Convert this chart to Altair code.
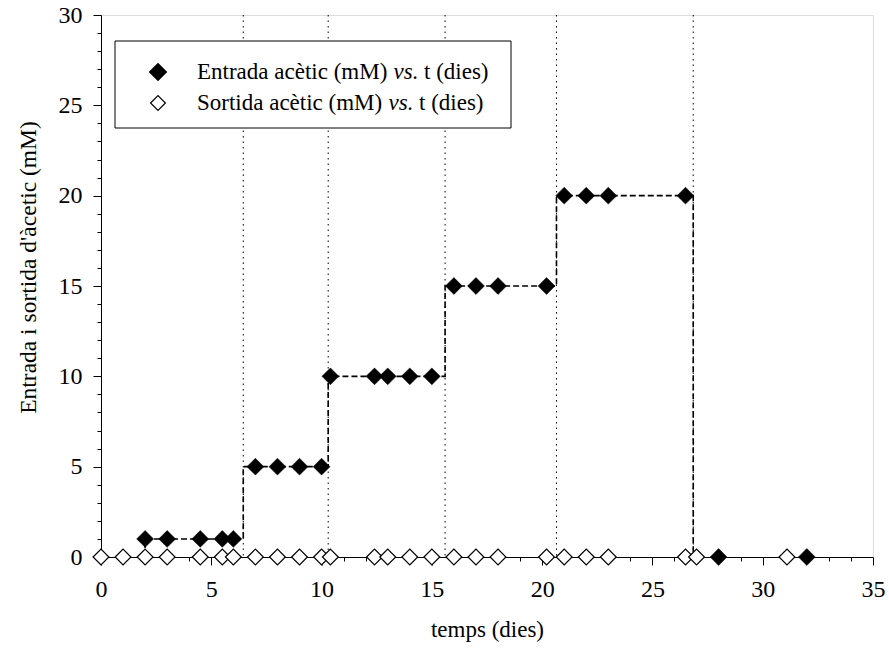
import altair as alt
import pandas as pd

# Acetic acid fed to the reactor (filled) and measured at the outlet (open), in mM, against time in days
entrada_t = [2, 3, 4.5, 5.5, 6, 7, 8, 9, 10, 10.4, 12.4, 13, 14, 15, 16, 17, 18, 20.2,
             21, 22, 23, 26.5, 28, 32]
entrada_c = [1, 1, 1, 1, 1, 5, 5, 5, 5, 10, 10, 10, 10, 10, 15, 15, 15, 15,
             20, 20, 20, 20, 0, 0]

sortida_t = [0, 1, 2, 3, 4.5, 5.5, 6, 7, 8, 9, 10, 10.4, 12.4, 13, 14, 15, 16, 17, 18,
             20.2, 21, 22, 23, 26.5, 27, 31.1]
sortida_c = [0] * len(sortida_t)

# Days on which the feed concentration was changed
canvi_t = [6.45, 10.3, 15.6, 20.65, 26.85]
# Feed concentration programme (step profile)
perfil_t = [2, 2, 6.45, 6.45, 10.3, 10.3, 15.6, 15.6, 20.65, 20.65, 26.85, 26.85]
perfil_c = [0, 1, 1, 5, 5, 10, 10, 15, 15, 20, 20, 0]

legend_labels = ["Entrada acètic (mM)", "Sortida acètic (mM)"]
legend_vs = "vs."
legend_tail = "t (dies)"

FONT = "'Liberation Serif', 'Times New Roman', Times, 'DejaVu Serif', serif"

df_in = pd.DataFrame({"t": entrada_t, "c": entrada_c})
df_out = pd.DataFrame({"t": sortida_t, "c": sortida_c})
df_step = pd.DataFrame({"t": perfil_t, "c": perfil_c, "o": list(range(len(perfil_t)))})
df_rules = pd.DataFrame({"t": canvi_t})
one = pd.DataFrame({"k": [0]})

major = "datum.value % 5 === 0"

x_axis = alt.Axis(
    title="temps (dies)",
    values=list(range(0, 36)),
    labelExpr=f"{major} ? datum.label : ''",
    tickSize={"condition": {"test": major, "value": 8}, "value": 4},
    grid=False, labelFlush=False, labelOverlap=False,
    domainColor="black", tickColor="black",
    labelFont=FONT, labelFontSize=24, labelColor="black", labelPadding=12,
    titleFont=FONT, titleFontSize=23, titleFontWeight="normal", titleColor="black",
    titlePadding=17,
)
y_axis = alt.Axis(
    title="Entrada i sortida d'àcetic (mM)",
    values=list(range(0, 31)),
    labelExpr=f"{major} ? datum.label : ''",
    tickSize={"condition": {"test": major, "value": 8}, "value": 4},
    grid=False, labelFlush=False, labelOverlap=False,
    domainColor="black", tickColor="black",
    labelFont=FONT, labelFontSize=24, labelColor="black", labelPadding=11,
    titleFont=FONT, titleFontSize=23.5, titleFontWeight="normal", titleColor="black",
    titlePadding=18, titleY=252,
)

xs = alt.Scale(domain=[0, 35], nice=False, zero=False)
ys = alt.Scale(domain=[0, 30], nice=False, zero=False)

rules = alt.Chart(df_rules).mark_rule(
    color="black", strokeWidth=1, strokeDash=[1.5, 4]
).encode(x=alt.X("t:Q", scale=xs, axis=x_axis))

step = alt.Chart(df_step).mark_line(
    color="black", strokeWidth=1.6, strokeDash=[6, 3]
).encode(
    x=alt.X("t:Q", scale=xs, axis=x_axis),
    y=alt.Y("c:Q", scale=ys, axis=y_axis),
    order="o:Q",
)

open_pts = alt.Chart(df_out).mark_point(
    shape="diamond", size=250, filled=True, fill="white",
    stroke="black", strokeWidth=1.2, opacity=1
).encode(
    x=alt.X("t:Q", scale=xs, axis=x_axis),
    y=alt.Y("c:Q", scale=ys, axis=y_axis),
)

filled_pts = alt.Chart(df_in).mark_point(
    shape="diamond", size=285, filled=True, fill="black",
    stroke="black", strokeWidth=0.5, opacity=1
).encode(
    x=alt.X("t:Q", scale=xs, axis=x_axis),
    y=alt.Y("c:Q", scale=ys, axis=y_axis),
)

# Legend box drawn inside the plot area
box = alt.Chart(one).mark_rect(
    fill="white", stroke="black", strokeWidth=1
).encode(x=alt.value(14), x2=alt.value(410), y=alt.value(26), y2=alt.value(113))

sym_in = alt.Chart(one).mark_point(
    shape="diamond", size=250, filled=True, fill="black", stroke="black", opacity=1
).encode(x=alt.value(57), y=alt.value(57))
sym_out = alt.Chart(one).mark_point(
    shape="diamond", size=220, filled=True, fill="white",
    stroke="black", strokeWidth=1.2, opacity=1
).encode(x=alt.value(57), y=alt.value(88))


def txt(s, x, y, italic=False):
    return alt.Chart(one).mark_text(
        font=FONT, fontSize=23, fontStyle="italic" if italic else "normal",
        align="left", baseline="middle", color="black"
    ).encode(x=alt.value(x), y=alt.value(y), text=alt.value(s))


legend_rows = [
    (legend_labels[0], 57, 292.5, 323.0),
    (legend_labels[1], 88, 287.5, 318.0),
]
legend_layers = []
for lab, yy, xvs, xtail in legend_rows:
    legend_layers += [txt(lab, 96, yy), txt(legend_vs, xvs, yy, True), txt(legend_tail, xtail, yy)]

chart = alt.layer(
    rules, step, open_pts, filled_pts, box, sym_in, sym_out, *legend_layers
).properties(
    width=772, height=542,
    autosize=alt.AutoSizeParams(type="none"),
    padding={"left": 101, "top": 15, "right": 16, "bottom": 101},
).configure_view(
    stroke="#7f7f7f", strokeWidth=1.5
).configure(background="white")

chart.save("out.html", embed_options={"renderer": "svg", "actions": False})
